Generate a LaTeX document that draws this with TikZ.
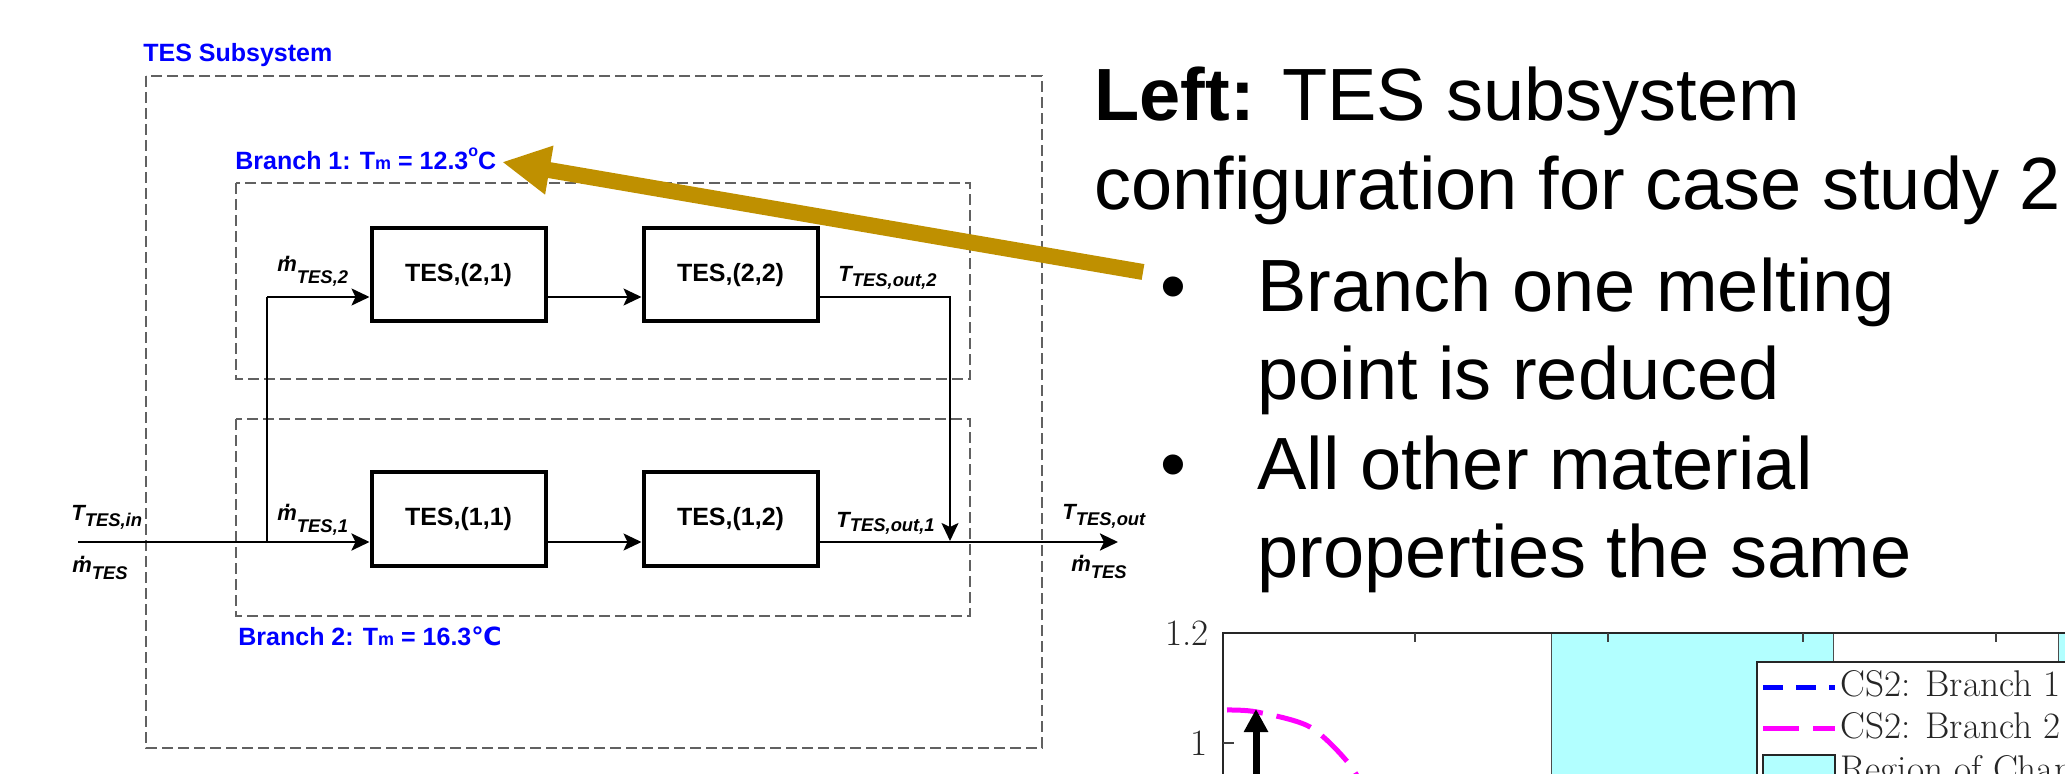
\documentclass[tikz,border=0pt]{standalone}
\usepackage{fontspec}
\newfontfamily\arial{Liberation Sans}
\newfontfamily\djv{DejaVu Sans}
\usetikzlibrary{arrows.meta,calc}
\definecolor{tblue}{RGB}{0,0,255}
\definecolor{gold}{RGB}{191,144,0}
\definecolor{cyanfill}{RGB}{178,255,255}
\definecolor{mag}{RGB}{255,0,255}
\newcommand{\fs}[1]{\fontsize{#1}{#1}\selectfont}
\newcommand{\dm}{\leavevmode\hbox{\rlap{\hspace{0.36em}\raisebox{0.58em}{.}}m}}
\newcommand{\lab}[3]{{\arial\bfseries\itshape\fs{11}#1\raisebox{-#3}{\fs{9.2}#2}}}
\tikzset{
  tesbox/.style={draw, line width=2pt, minimum width=87pt, minimum height=46.5pt, inner sep=0pt, fill=white, font=\arial\bfseries\fs{12.5}},
  flow/.style={line width=1pt, -{Stealth[length=9pt,width=8.5pt,inset=2pt]}},
  flowthick/.style={line width=1.4pt, -{Stealth[length=9pt,width=8.5pt,inset=2pt]}},
  thinline/.style={line width=1pt},
  dbox/.style={draw=black!62, line width=0.75pt, dash pattern=on 5.5pt off 2.5pt},
  lbl/.style={anchor=base west, inner sep=0pt},
  btitle/.style={anchor=base west, inner sep=0pt, text=tblue, font=\arial\bfseries\fs{12.5}},
  bigtxt/.style={anchor=base west, inner sep=0pt, font=\arial\fs{37}},
  plottxt/.style={inner sep=0pt, text=black!85, font=\fs{18.6}},
  goldarrow/.style={draw=gold, line width=8pt, -{Triangle[length=24pt,width=23pt]}},
}
\begin{document}
\begin{tikzpicture}[x=0.5pt,y=-0.5pt]
\useasboundingbox (0,0) rectangle (2065,774);
\clip (0,0) rectangle (2065,774);

% ---------- left diagram ----------
\node[btitle] (tsub) at (143,62) {TES Subsystem};
\draw[dbox] (146,76) rectangle (1042,748);
\node[btitle] (b1) at (235,170) {Branch 1: T{\fs{9}m} = 12.3\raisebox{0.55em}{\fs{8}o}C};
\node[btitle] (b2) at (238,645) {Branch 2: T{\fs{9}m} = 16.3{\djv\bfseries ℃}};
\draw[dbox] (236,183) rectangle (970,379);
\draw[dbox] (236,419) rectangle (970,616);

\node[tesbox] (t21) at (458.5,275) {TES,(2,1)};
\node[tesbox] (t22) at (730.5,275) {TES,(2,2)};
\node[tesbox] (t11) at (458.5,519) {TES,(1,1)};
\node[tesbox] (t12) at (730.5,519) {TES,(1,2)};

\coordinate (in) at (78,542);
\coordinate (split) at (267,542);
\coordinate (r2) at (267,297);
\coordinate (join) at (950,541);
\coordinate (out) at (1118,542);

\draw[flowthick] (in) -- (in -| t11.west);
\draw[thinline] (split) -- (r2);
\draw[flow] (r2) -- (r2 -| t21.west);
\draw[flow] (t21.east |- r2) -- (t22.west |- r2);
\draw[flow] (t22.east |- r2) -| (join);
\draw[flow] (t11.east |- in) -- (t12.west |- in);
\draw[flowthick] (t12.east |- in) -- (out);

\node[lbl] (lTin) at (71,521) {\lab{T}{TES,in}{2.5pt}};
\node[lbl] (lmin) at (72,572) {\lab{\dm}{TES}{3.5pt}};
\node[lbl] (lm2) at (277,272) {\lab{\dm}{TES,2}{6pt}};
\node[lbl] (lm1) at (277,520) {\lab{\dm}{TES,1}{6pt}};
\node[lbl] (lTo2) at (838,282) {\lab{T}{TES,out,2}{2.5pt}};
\node[lbl] (lTo1) at (836,527) {\lab{T}{TES,out,1}{2pt}};
\node[lbl] (lTo) at (1062,519) {\lab{T}{TES,out}{3pt}};
\node[lbl] (lmo) at (1071,571) {\lab{\dm}{TES}{3.5pt}};

% ---------- right text ----------
\node[bigtxt] (tx1) at (1094,121) {\textbf{Left:} TES subsystem};
\node[bigtxt] (tx2) at (1094,210) {configuration for case study 2};
\node[bigtxt] (bu1) at (1160,312) {•};
\node[bigtxt] (tx3) at (1257,312) {Branch one melting};
\node[bigtxt] (tx4) at (1257,400) {point is reduced};
\node[bigtxt] (bu2) at (1160,489) {•};
\node[bigtxt] (tx5) at (1257,489) {All other material};
\node[bigtxt] (tx6) at (1257,577) {properties the same};

% ---------- plot ----------
\fill[cyanfill] (1551,633) rectangle (1833,800);
\fill[cyanfill] (2058,633) rectangle (2100,800);
\draw[black!70, line width=0.5pt] (1551,633) -- (1551,800) (1833,633) -- (1833,800) (2058,633) -- (2058,800);
\draw[black!85, line width=1pt] (1223,800) -- (1223,633) -- (2100,633);
\foreach \x in {1415,1608,1803,1996} \draw[black!75, line width=0.6pt] (\x,633) -- (\x,642);
\draw[black!75, line width=0.6pt] (1223,743) -- (1234,743);
\node[plottxt, anchor=east] (y12) at (1209,633) {1.2};
\node[plottxt, anchor=east] (y1) at (1208,743) {1};
\draw[mag, line width=2.5pt, dash pattern=on 18pt off 7pt] plot[smooth] coordinates {(1227,710) (1257,712) (1310,727) (1350,765) (1372,805)};
\draw[black, line width=3.5pt, -{Triangle[length=11.5pt,width=11.5pt]}] (1256,805) -- (1256,709);
\draw[fill=white, draw=black!85, line width=0.8pt] (1757,662) rectangle (2100,800);
\draw[tblue, line width=2.5pt, dash pattern=on 10pt off 6.5pt] (1763,687) -- (1835,687);
\draw[mag, line width=2.5pt, dash pattern=on 18pt off 7pt] (1763,728) -- (1835,728);
\draw[fill=cyanfill, draw=black!85, line width=0.8pt] (1763,755) rectangle (1835,800);
\node[plottxt, anchor=base west] (lg1) at (1840,696) {CS2: Branch 1};
\node[plottxt, anchor=base west] (lg2) at (1840,738) {CS2: Branch 2};
\node[plottxt, anchor=base west] (lg3) at (1840,781) {Region of Change};

% ---------- gold arrow ----------
\coordinate (gtail) at (1143,272);
\coordinate (gtip) at (502,162);
\draw[goldarrow] (gtail) -- (gtip);
\end{tikzpicture}
\end{document}
